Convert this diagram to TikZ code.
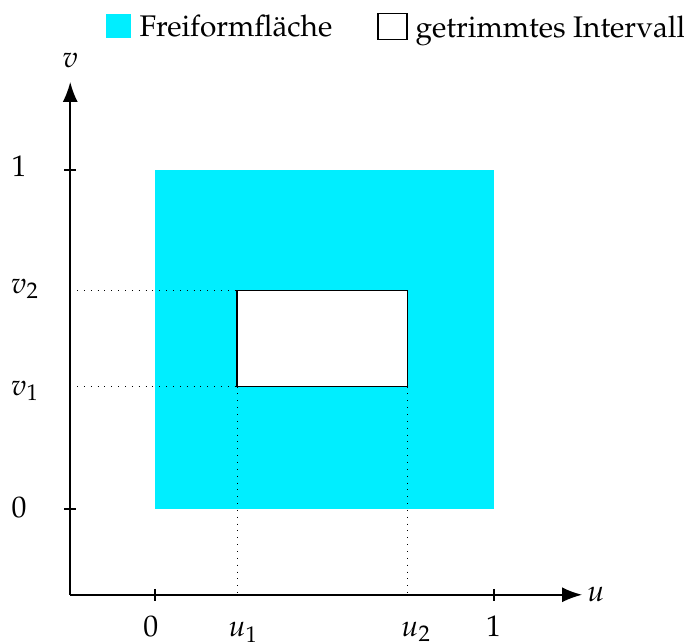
\documentclass[tikz,border=0pt]{standalone}
\usepackage[T1]{fontenc}
\usepackage{mathpazo}
\usepackage{xcolor}
\usepackage{tikz}
\usetikzlibrary{arrows.meta,positioning}

\definecolor{freiform}{RGB}{0,238,255}

\begin{document}
\begin{tikzpicture}[
    x=4cm, y=4cm,
    axis/.style={-{Latex[length=6.7pt,width=5pt]}, semithick},
    tickmark/.style={semithick},
    guide/.style={dotted, line width=0.3pt},
    legendfill/.style={fill=freiform, minimum width=0.295cm, minimum height=0.283cm, inner sep=0pt},
    legendframe/.style={draw, thin, fill=white, minimum width=0.34cm, minimum height=0.3cm, inner sep=0pt},
    legendtext/.style={inner sep=2.5pt, text depth=0pt},
    ticklabel/.style={anchor=base, inner sep=0pt}
  ]
    \useasboundingbox (-0.4572,-0.3894) rectangle (1.5605,1.5015);

    % legend
    \node[legendfill] (fbox) at (-0.108,1.4248) {};
    \node[legendtext, right=0pt of fbox] (ftext) {Freiformfläche};
    \node[legendframe] (ibox) at (0.7006,1.4233) {};
    \node[legendtext, right=0pt of ibox] (itext) {getrimmtes Intervall};

    % surface and trimmed interval
    \fill[freiform] (0,0) rectangle (1,1);
    \coordinate (lo) at (0.242,0.361);
    \coordinate (hi) at (0.746,0.644);
    \draw[thin, fill=white] (lo) rectangle (hi);

    % axes
    \coordinate (O) at (-0.25,-0.253);
    \coordinate (uend) at (1.26,-0.253);
    \coordinate (vend) at (-0.25,1.26);
    \draw[axis] (O) -- (uend);
    \draw[axis] (O) -- (vend);
    \node[right, inner sep=1.5pt] (ulabel) at (uend) {$u$};
    \node[ticklabel] (vlabel) at (-0.25,1.301) {$v$};

    % guide lines
    \draw[guide] (O |- hi) -- (lo |- hi);
    \draw[guide] (O |- lo) -- (lo);
    \draw[guide] (lo) -- (lo |- O);
    \draw[guide] (hi |- lo) -- (hi |- O);

    % ticks
    \draw[tickmark] (0,-0.253) ++(0,2pt) -- ++(0,-4pt);
    \draw[tickmark] (1,-0.253) ++(0,2pt) -- ++(0,-4pt);
    \draw[tickmark] (-0.25,0) ++(-2pt,0) -- ++(4pt,0);
    \draw[tickmark] (-0.25,1) ++(-2pt,0) -- ++(4pt,0);

    % tick labels
    \node[ticklabel] (u0) at (-0.012,-0.376) {$0$};
    \node[ticklabel] (u1) at (0.261,-0.376) {$u_1$};
    \node[ticklabel] (u2) at (0.771,-0.376) {$u_2$};
    \node[ticklabel] (uone) at (0.999,-0.376) {$1$};
    \node[ticklabel] (v0) at (-0.401,-0.024) {$0$};
    \node[ticklabel] (v1) at (-0.383,0.336) {$v_1$};
    \node[ticklabel] (v2) at (-0.383,0.637) {$v_2$};
    \node[ticklabel] (vone) at (-0.401,0.982) {$1$};
  \end{tikzpicture}
\end{document}
